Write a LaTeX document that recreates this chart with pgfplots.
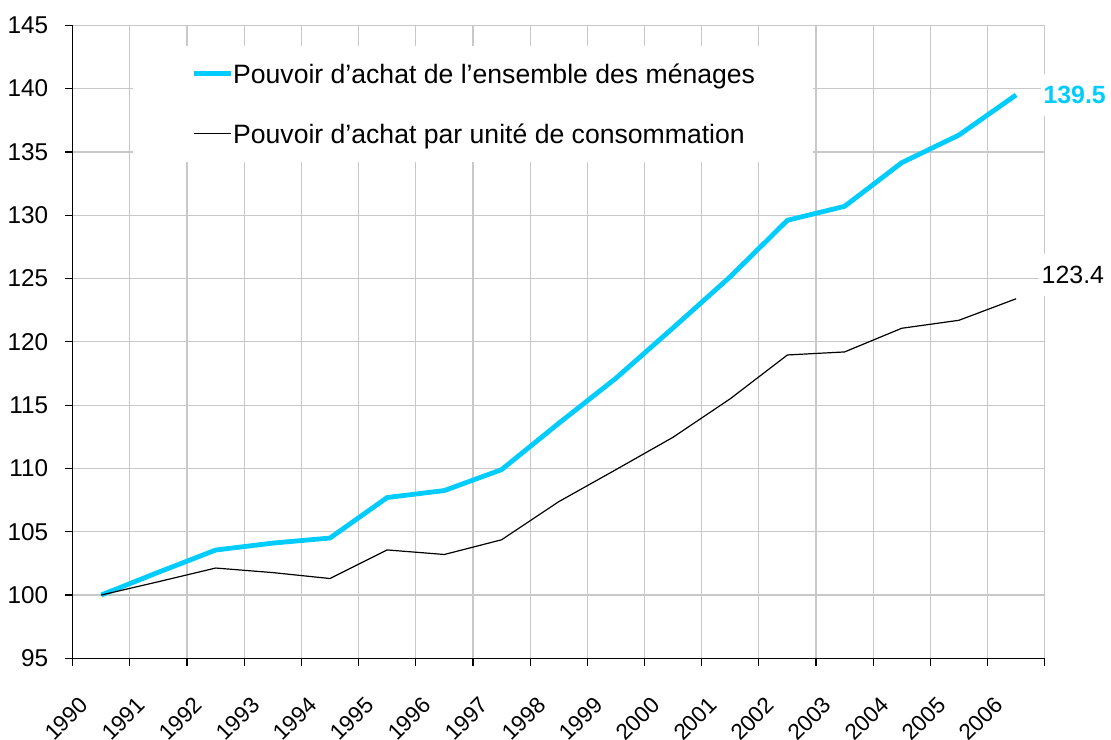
\documentclass[border=0pt]{standalone}
\usepackage{fontspec}
\setmainfont{Liberation Sans}
\usepackage{pgfplots}
\pgfplotsset{compat=1.18}
\definecolor{cyanline}{RGB}{0,204,255}
\definecolor{gridgray}{RGB}{200,200,200}
\begin{document}
\begin{tikzpicture}
\begin{axis}[
  scale only axis,
  width=486bp, height=316.5bp,
  xmin=-0.5, xmax=16.5, ymin=95, ymax=145,
  axis x line=bottom, axis y line=left,
  axis line style={-, black, line width=0.8bp},
  xtick={0,...,16},
  xticklabels={1990,1991,1992,1993,1994,1995,1996,1997,1998,1999,2000,2001,2002,2003,2004,2005,2006},
  minor xtick={-0.5,0.5,...,16.5},
  ytick={95,100,...,145},
  tick align=outside,
  major tick length=3.75bp,
  minor tick length=3.75bp,
  x tick style={draw=none},
  minor x tick style={draw=black, line width=0.6bp},
  y tick style={draw=black, line width=0.6bp},
  xmajorgrids=false, xminorgrids=true, ymajorgrids=true,
  grid style={gridgray, line width=0.6bp},
  minor grid style={gridgray, line width=0.6bp},
  /pgf/number format/assume math mode=true,
  tick label style={font=\fontsize{12.2}{15}\selectfont},
  yticklabel style={xshift=-5bp},
  xticklabel style={font=\fontsize{11.3}{13}\selectfont, xshift=-8.5bp, yshift=-17.5bp, rotate=45, anchor=east, inner sep=0pt},
  clip=false,
  legend style={at={(0.062,0.9684)}, anchor=north west, draw=none, fill=white,
    inner xsep=29bp, inner ysep=9bp, row sep=20bp,
    font=\fontsize{13.35}{15}\selectfont,
    nodes={inner sep=0pt, text height=10bp, text depth=0bp}},
  legend cell align=left,
  legend image code/.code={\draw[#1] (-1bp,0bp) -- (17.5bp,0bp);},
  /tikz/every even column/.append style={column sep=1.5bp},
]
\addplot[cyanline, line width=2.4bp, line join=round] coordinates {
(0,100) (1,101.8) (2,103.55) (3,104.1) (4,104.5) (5,107.7) (6,108.25) (7,109.9) (8,113.56) (9,117.12) (10,121.1) (11,125.14) (12,129.6) (13,130.7) (14,134.15) (15,136.33) (16,139.5)
} node[pos=1, anchor=west, xshift=11bp, fill=white, inner xsep=1.5bp, inner ysep=6bp, text=cyanline, font=\bfseries\fontsize{12.5}{15}\selectfont] {139.5};
\addlegendentry{Pouvoir d'achat de l'ensemble des ménages}
\addplot[black, line width=0.6bp, line join=round] coordinates {
(0,100) (1,101.05) (2,102.13) (3,101.77) (4,101.3) (5,103.56) (6,103.2) (7,104.36) (8,107.37) (9,109.9) (10,112.46) (11,115.5) (12,118.96) (13,119.2) (14,121.07) (15,121.7) (16,123.4)
} node[pos=1, anchor=west, xshift=11bp, yshift=12bp, fill=white, inner xsep=1.5bp, inner ysep=6bp, font=\fontsize{12.5}{15}\selectfont] {123.4};
\addlegendentry{Pouvoir d'achat par unité de consommation}
\end{axis}
\pgfresetboundingbox
\path (current axis.south west) ++(-36.35bp,-40.85bp) rectangle ++(555.5bp,370bp);
\end{tikzpicture}
\end{document}
